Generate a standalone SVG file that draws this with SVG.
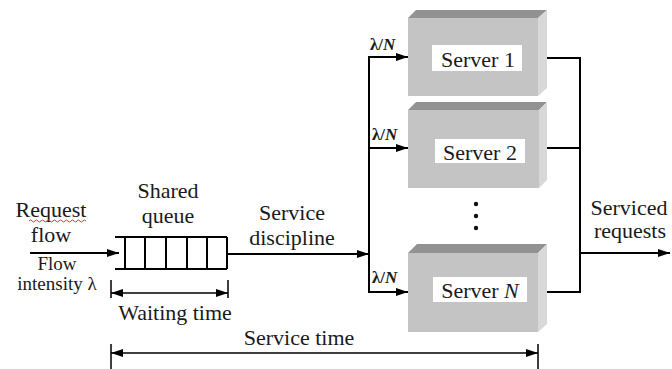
<svg xmlns="http://www.w3.org/2000/svg" width="672" height="369" viewBox="0 0 672 369">
  <defs>
    <marker id="arrow" viewBox="0 0 12 8" refX="12" refY="4" markerWidth="12" markerHeight="8" markerUnits="userSpaceOnUse" orient="auto">
      <path d="M0,0 L12,4 L0,8 z" fill="#000"/>
    </marker>
    <marker id="arrowStart" viewBox="0 0 12 8" refX="0" refY="4" markerWidth="12" markerHeight="8" markerUnits="userSpaceOnUse" orient="auto">
      <path d="M12,0 L0,4 L12,8 z" fill="#000"/>
    </marker>
  </defs>
  <style>
    text { font-family: 'Liberation Serif', 'Times New Roman', serif; fill: #1a1a1a; }
    .lbl { font-size: 22px; text-anchor: middle; }
    .small { font-size: 19px; text-anchor: middle; }
    .rate { font-size: 17px; font-weight: bold; }
    .line { stroke: #000; stroke-width: 2; fill: none; }
    .thin { stroke: #000; stroke-width: 1.5; fill: none; }
    .front { fill: #c4c4c4; }
    .top { fill: #929292; }
    .side { fill: #d8d8d8; }
    .tag { fill: #fff; }
  </style>

  <rect width="672" height="369" fill="#fff"/>

  <!-- incoming flow -->
  <g id="request-flow">
    <text class="lbl" x="51" y="217">Request</text>
    <path d="M29,221 q1.5,-2 3,0 t3,0 t3,0 t3,0 t3,0 t3,0 t3,0 t3,0 t3,0 t3,0 t3,0 t3,0 t3,0 t3,0 t3,0 t3,0 t3,0 t3,0 t3,0" stroke="#d23b3b" stroke-width="1" fill="none"/>
    <text class="lbl" x="51" y="242">flow</text>
    <text class="small" x="57" y="270">Flow</text>
    <text class="small" x="57" y="290">intensity λ</text>
  </g>

  <!-- shared queue -->
  <g id="shared-queue">
    <text class="lbl" x="168" y="198">Shared</text>
    <text class="lbl" x="168" y="223">queue</text>
    <path class="line" d="M115,237 H227 M115,269 H227 M125,237 V269 M145,237 V269 M166,237 V269 M187,237 V269 M207,237 V269 M227,237 V269"/>
  </g>

  <g id="service-discipline">
    <text class="lbl" x="292" y="220">Service</text>
    <text class="lbl" x="292" y="245">discipline</text>
  </g>

  <!-- servers: top face, side face, front face, white name tag -->
  <g id="server-1">
    <polygon class="top" points="408,18 416,10 547,10 538,18"/>
    <polygon class="side" points="538,18 547,10 547,88 538,96"/>
    <rect class="front" x="408" y="18" width="130" height="78"/>
    <rect class="tag" x="432" y="45" width="90" height="26"/>
    <text class="lbl" x="478" y="67">Server 1</text>
  </g>
  <g id="server-2">
    <polygon class="top" points="408,110 416,102 547,102 539,110"/>
    <polygon class="side" points="539,110 547,102 547,180 539,188"/>
    <rect class="front" x="408" y="110" width="131" height="78"/>
    <rect class="tag" x="435" y="139" width="90" height="24"/>
    <text class="lbl" x="480" y="160">Server 2</text>
  </g>
  <g id="ellipsis" fill="#111">
    <circle cx="476" cy="204" r="2.2"/>
    <circle cx="476" cy="216" r="2.2"/>
    <circle cx="476" cy="228" r="2.2"/>
  </g>
  <g id="server-n">
    <polygon class="top" points="408,253 417,244 547,244 538,253"/>
    <polygon class="side" points="538,253 547,244 547,324 538,332"/>
    <rect class="front" x="408" y="253" width="130" height="79"/>
    <rect class="tag" x="433" y="277" width="94" height="25"/>
    <text class="lbl" x="480" y="298">Server <tspan font-style="italic">N</tspan></text>
  </g>

  <g id="serviced-requests">
    <text class="lbl" x="629" y="215">Serviced</text>
    <text class="lbl" x="630" y="238">requests</text>
  </g>

  <g id="rate-labels">
    <text class="rate" x="370" y="50">λ/<tspan font-style="italic">N</tspan></text>
    <text class="rate" x="372" y="140">λ/<tspan font-style="italic">N</tspan></text>
    <text class="rate" x="372" y="283">λ/<tspan font-style="italic">N</tspan></text>
  </g>

  <!-- connectors -->
  <g id="connectors">
    <line class="line" x1="30" y1="253" x2="119" y2="253" marker-end="url(#arrow)"/>
    <line class="line" x1="227" y1="254" x2="369" y2="254" marker-end="url(#arrow)"/>
    <line class="line" x1="369" y1="57" x2="369" y2="293"/>
    <line class="line" x1="368" y1="57" x2="408" y2="57" marker-end="url(#arrow)"/>
    <line class="line" x1="369" y1="148" x2="408" y2="148" marker-end="url(#arrow)"/>
    <line class="line" x1="368" y1="292" x2="408" y2="292" marker-end="url(#arrow)"/>
    <line class="line" x1="547" y1="58" x2="581" y2="58"/>
    <line class="line" x1="547" y1="148" x2="580" y2="148"/>
    <line class="line" x1="547" y1="292" x2="581" y2="292"/>
    <line class="line" x1="580" y1="57" x2="580" y2="293"/>
    <line class="line" x1="580" y1="253" x2="670" y2="253" marker-end="url(#arrow)"/>
  </g>

  <!-- time spans -->
  <g id="waiting-time">
    <path class="thin" d="M111,280 V298 M228,280 V298"/>
    <line class="thin" x1="111" y1="293" x2="228" y2="293" marker-start="url(#arrowStart)" marker-end="url(#arrow)"/>
    <text class="lbl" x="175" y="320">Waiting time</text>
  </g>
  <g id="service-time">
    <path class="thin" d="M111,344 V369 M538,344 V369"/>
    <line class="thin" x1="111" y1="353" x2="538" y2="353" marker-start="url(#arrowStart)" marker-end="url(#arrow)"/>
    <text class="lbl" x="299" y="345">Service time</text>
  </g>
</svg>
